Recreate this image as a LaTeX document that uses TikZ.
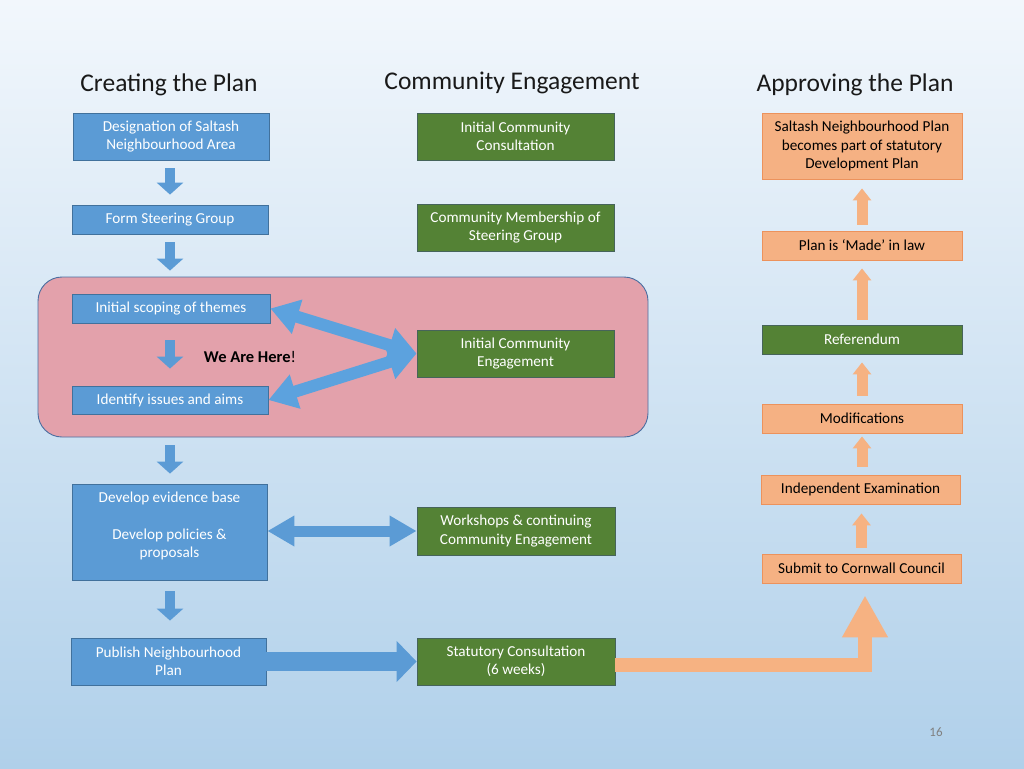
\documentclass[tikz,border=0pt]{standalone}
\usepackage{fontspec}
\setmainfont{Carlito}
\usetikzlibrary{arrows.meta}
\definecolor{bgtop}{RGB}{242,247,252}
\definecolor{bgbot}{RGB}{176,208,234}
\definecolor{bfill}{RGB}{91,155,213}
\definecolor{bline}{RGB}{65,113,156}
\definecolor{gfill}{RGB}{84,130,53}
\definecolor{gline}{RGB}{70,100,90}
\definecolor{ofill}{RGB}{245,177,131}
\definecolor{oline}{RGB}{236,146,92}
\definecolor{oarr}{RGB}{246,178,130}
\definecolor{pfill}{RGB}{227,161,171}
\definecolor{pline}{RGB}{75,110,160}
\definecolor{darr}{RGB}{92,162,222}
\tikzset{
  boxtext/.style={inner sep=0pt, align=center, font=\fontsize{15.2}{18.4}\selectfont},
  box/.style={boxtext, draw, line width=0.8pt},
  bluebox/.style={box, fill=bfill, draw=bline, text=white},
  greenbox/.style={box, fill=gfill, draw=gline, text=white},
  orangebox/.style={box, fill=ofill, draw=oline, text=black},
  sz/.style 2 args={minimum width=#1pt, minimum height=#2pt},
  header/.style={font=\fontsize{25.5}{30}\selectfont, text=black!90},
  bdown/.style={draw=bfill, line width=10pt, -{Triangle[width=26pt,length=12pt]}},
  dblarrow/.style={draw=darr, line width=12pt, {Triangle[width=34pt,length=28pt]}-{Triangle[width=34pt,length=28pt]}},
  warrow/.style={draw=bfill, line width=11pt, {Triangle[width=29pt,length=27pt]}-{Triangle[width=29pt,length=27pt]}},
  parrow/.style={draw=bfill, line width=19pt, -{Triangle[width=40pt,length=20pt]}},
  oup/.style={draw=oarr, line width=11pt, -{Triangle[width=18pt,length=12pt]}},
  obig/.style={draw=oarr, line width=14pt, line join=miter, -{Triangle[width=43pt,length=42pt]}},
}
\begin{document}
\begin{tikzpicture}[x=1pt,y=-1pt]
\useasboundingbox (0,0) rectangle (1024,768);
\shade[top color=bgtop, bottom color=bgbot] (0,0) rectangle (1024,768);

% headers
\node[header] (h1) at (169,85) {Creating the Plan};
\node[header] (h2) at (512,83) {Community Engagement};
\node[header] (h3) at (855,85) {Approving the Plan};

% pink highlight
\node[draw=pline, line width=0.9pt, fill=pfill, rounded corners=24pt, sz={610}{160}] (here) at (343,357) {};

% blue column
\node[bluebox, sz={196}{47}] (desig) at (171,136.5) {Designation of Saltash\\Neighbourhood Area};
\node[bluebox, sz={196}{29}] (steer) at (170,219.5) {Form Steering Group};
\node[bluebox, sz={198}{29}] (scope) at (171,308.5) {Initial scoping of themes};
\node[bluebox, sz={196}{28}] (issues) at (170,400) {Identify issues and aims};
\node[bluebox, sz={195}{96}] (evid) at (169.5,532) {};
\node[boxtext, text=white, anchor=north] (evidtxt) at (169.5,492) {Develop evidence base\\[18.4pt]Develop policies \&\\proposals};
\node[bluebox, sz={195}{47}] (publish) at (168.5,661.5) {Publish Neighbourhood\\Plan};

\node[font=\fontsize{16.5}{19}\selectfont, text=black] (wah) at (250,357) {\textbf{We Are Here}!};

% green column
\node[greenbox, sz={197}{47}] (icc) at (515.5,136.5) {Initial Community\\Consultation};
\node[greenbox, sz={197}{47}] (cmsg) at (515.5,227.5) {Community Membership of\\Steering Group};
\node[greenbox, sz={197}{47}] (ice) at (515.5,353.5) {Initial Community\\Engagement};
\node[greenbox, sz={198}{48}] (work) at (516,531) {Workshops \& continuing\\Community Engagement};
\node[greenbox, sz={198}{47}] (stat) at (516,661.5) {Statutory Consultation\\(6 weeks)};

% right column
\node[orangebox, sz={200}{66}] (saltash) at (862,146) {Saltash Neighbourhood Plan\\becomes part of statutory\\Development Plan};
\node[orangebox, sz={200}{29}] (made) at (862,245.5) {Plan is ‘Made’ in law};
\node[greenbox, sz={200}{29}] (refer) at (862,339.5) {Referendum};
\node[orangebox, sz={200}{29}] (modif) at (862,418.5) {Modifications};
\node[orangebox, sz={199}{29}] (indep) at (860.5,489.5) {Independent Examination};
\node[orangebox, sz={199}{29}] (submit) at (861.5,568.5) {Submit to Cornwall Council};

% blue down arrows
\draw[bdown, shorten <=8pt, shorten >=10pt] (desig.south -| steer.south) -- (steer.north);
\draw[bdown, shorten <=8pt, shorten >=23pt] (steer.south) -- (steer.south |- scope.north);
\draw[bdown, shorten <=17pt, shorten >=17pt] (scope.south -| steer.south) -- (steer.south |- issues.north);
\draw[bdown, shorten <=8pt, shorten >=10pt] (steer.south |- here.south) -- (steer.south |- evid.north);
\draw[bdown, shorten <=11pt, shorten >=17pt] (steer.south |- evid.south) -- (steer.south |- publish.north);

% engagement arrows
\draw[dblarrow] (scope.east) -- (ice.west);
\draw[dblarrow] (issues.east) -- (ice.west);
\draw[warrow] (evid.east |- work.west) -- (work.west);
\draw[parrow] (publish.east) -- (stat.west);

% orange arrows
\draw[oup, shorten <=6pt, shorten >=9pt] (made.north) -- (saltash.south);
\draw[oup, shorten <=5pt, shorten >=8pt] (refer.north) -- (made.south);
\draw[oup, shorten <=8pt, shorten >=8pt] (modif.north) -- (refer.south);
\draw[oup, shorten <=8pt, shorten >=3pt] (indep.north -| modif.north) -- (modif.south);
\draw[oup, shorten <=6pt, shorten >=9pt] (submit.north) -- (submit.north |- indep.south);
\draw[obig] ([yshift=-3.5pt]stat.east) -| ([xshift=3.5pt,yshift=-12pt]submit.south);

\node[font=\fontsize{13}{15}\selectfont, text=black!50] (pg) at (936,732) {16};
\end{tikzpicture}
\end{document}
